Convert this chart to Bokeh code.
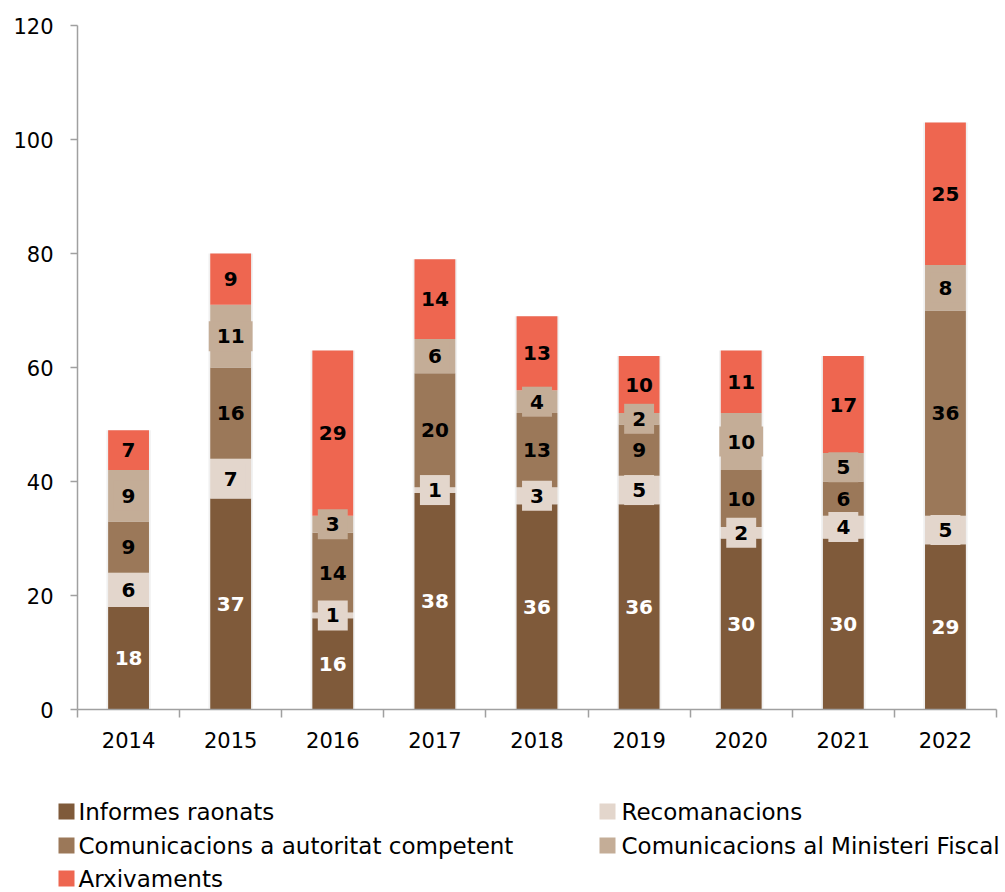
from bokeh.plotting import figure
from bokeh.models import Range1d, FixedTicker, ColumnDataSource
from bokeh.layouts import column
from bokeh.embed import file_html
from bokeh.resources import INLINE
from bokeh.core.properties import value

years = ["2014", "2015", "2016", "2017", "2018", "2019", "2020", "2021", "2022"]
series_names = ["Informes raonats", "Recomanacions", "Comunicacions a autoritat competent",
                "Comunicacions al Ministeri Fiscal", "Arxivaments"]
informes = [18, 37, 16, 38, 36, 36, 30, 30, 29]
recomanacions = [6, 7, 1, 1, 3, 5, 2, 4, 5]
comunicacions_aut = [9, 16, 14, 20, 13, 9, 10, 6, 36]
ministeri_fiscal = [9, 11, 3, 6, 4, 2, 10, 5, 8]
arxivaments = [7, 9, 29, 14, 13, 10, 11, 17, 25]
colors = ["#7F5A3A", "#E3D6CC", "#9B7859", "#C4AD97", "#EE6650"]
label_colors = ["white", "black", "black", "black", "black"]
label_boxed = [False, True, False, True, False]
y_ticks = [0, 20, 40, 60, 80, 100, 120]

FONT = "DejaVu Sans"
series = [informes, recomanacions, comunicacions_aut, ministeri_fiscal, arxivaments]
keys = ["s0", "s1", "s2", "s3", "s4"]
xs = [i + 0.5 for i in range(len(years))]
data = {"x": xs}
for k, s in zip(keys, series):
    data[k] = s
totals = [sum(v) for v in zip(*series)]
data["total"] = totals
src = ColumnDataSource(data)

p = figure(width=1004, height=769, output_backend="svg", toolbar_location=None,
           x_range=Range1d(0, len(years)), y_range=Range1d(0, 120),
           min_border_left=77, min_border_right=8, min_border_top=25, min_border_bottom=60)
p.frame_align = False
p.outline_line_color = None
p.grid.grid_line_color = None
p.background_fill_color = "white"
p.border_fill_color = "white"

BAR_W = 0.40
# soft shadow
p.vbar(x="x", top="total", bottom=0, width=BAR_W + 0.035, source=src,
       fill_color="#000000", fill_alpha=0.06, line_color=None)
p.vbar_stack(keys, x="x", width=BAR_W, color=colors, source=src, line_color=None)

# labels (boxed ones drawn last so their boxes sit on top)
order = [0, 2, 4, 1, 3]
for idx in order:
    s = series[idx]
    base = [sum(series[j][i] for j in range(idx)) for i in range(len(years))]
    mids = [b + v / 2 for b, v in zip(base, s)]
    lsrc = ColumnDataSource({"x": xs, "y": mids, "t": [str(v) for v in s]})
    p.text(x="x", y="y", text="t", source=lsrc, text_align="center", text_baseline="middle",
           text_font=value(FONT), text_font_style="bold", text_font_size="20px",
           text_color=label_colors[idx],
           background_fill_color=colors[idx] if label_boxed[idx] else None,
           padding=8)

ax = p.xaxis[0]
ax.ticker = FixedTicker(ticks=xs, minor_ticks=list(range(len(years) + 1)))
ax.major_label_overrides = {x: y for x, y in zip(xs, years)}
ax.major_tick_line_color = None
ax.minor_tick_line_color = "#A0A0A0"
ax.minor_tick_out = 8
ax.minor_tick_in = 0
ax.minor_tick_line_width = 1.5
ax.axis_line_color = "#A0A0A0"
ax.axis_line_width = 1.5
ax.major_label_text_font = FONT
ax.major_label_text_font_size = "21px"
ax.major_label_text_color = "black"
ax.major_label_standoff = 14

ay = p.yaxis[0]
ay.ticker = FixedTicker(ticks=y_ticks)
ay.minor_tick_line_color = None
ay.major_tick_line_color = "#A0A0A0"
ay.major_tick_out = 7
ay.major_tick_in = 0
ay.major_tick_line_width = 1.5
ay.axis_line_color = "#A0A0A0"
ay.axis_line_width = 1.5
ay.major_label_text_font = FONT
ay.major_label_text_font_size = "21px"
ay.major_label_text_color = "black"
ay.major_label_standoff = 17

# legend figure (two columns, row-major)
lg = figure(width=1004, height=123, output_backend="svg", toolbar_location=None,
            x_range=Range1d(0, 1004), y_range=Range1d(123, 0),
            min_border=0, min_border_left=0, min_border_right=0,
            min_border_top=0, min_border_bottom=0)
lg.frame_align = False
lg.outline_line_color = None
lg.axis.visible = False
lg.grid.grid_line_color = None
col_sq = [58, 599]
col_tx = [78, 621]
row_y = [42, 76, 109]
sq_x, sq_y, tx_x, tx_y = [], [], [], []
for i in range(len(series_names)):
    r, c = divmod(i, 2)
    sq_x.append(col_sq[c] + 8)
    sq_y.append(row_y[r])
    tx_x.append(col_tx[c])
    tx_y.append(row_y[r])
lg.rect(x=sq_x, y=sq_y, width=16, height=16, width_units="screen", height_units="screen",
        fill_color=colors, line_color=None)
lg.text(x=tx_x, y=tx_y, text=series_names, text_align="left", text_baseline="middle",
        text_font=value(FONT), text_font_size="23px", text_color="black")

layout = column(p, lg, spacing=0)
open("out.html", "w").write(file_html(layout, INLINE))
